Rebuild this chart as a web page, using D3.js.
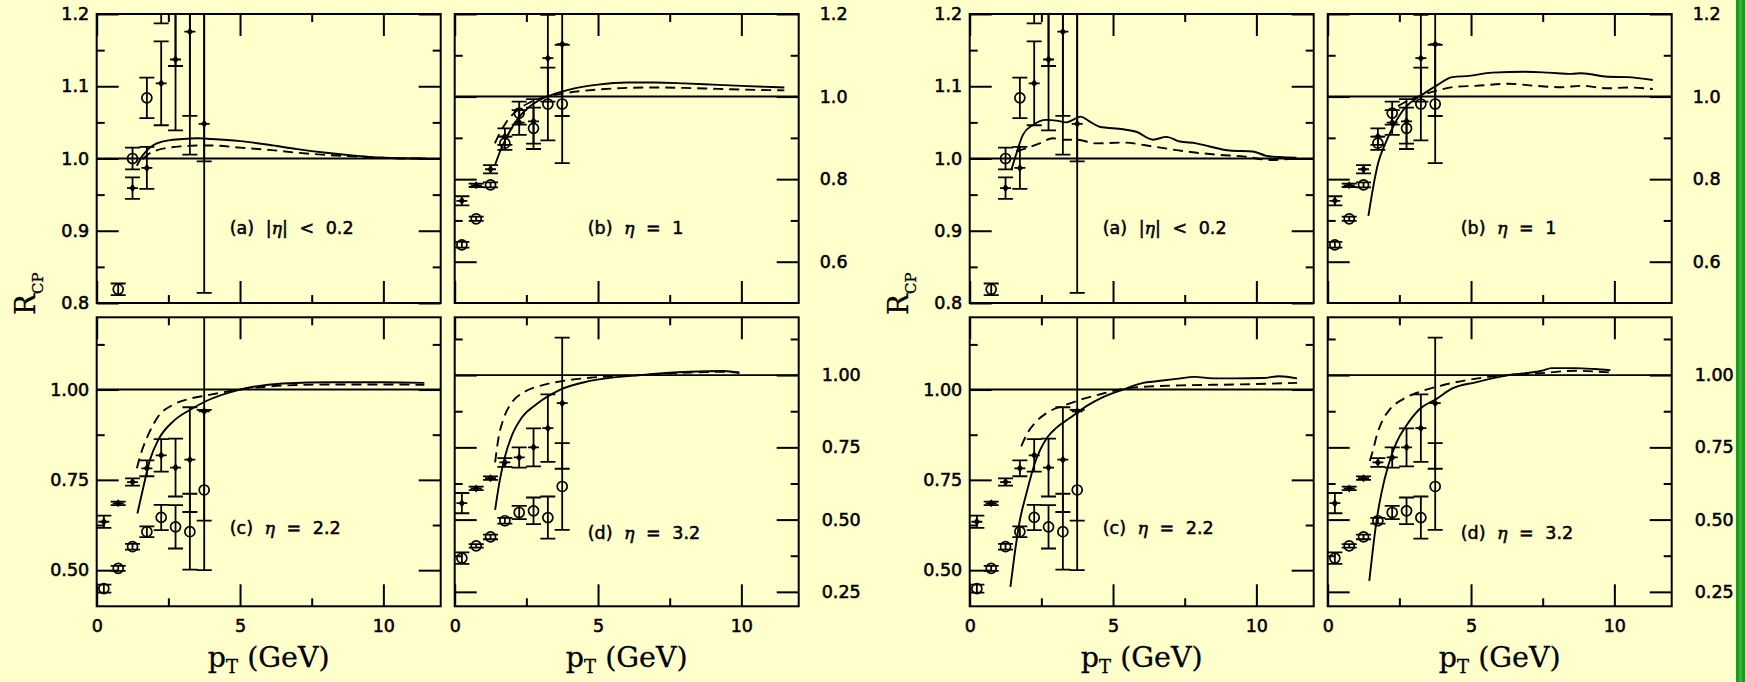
<!DOCTYPE html>
<html><head><meta charset="utf-8">
<script src="https://cdn.jsdelivr.net/npm/d3@7"></script>
<style>
html,body{margin:0;padding:0;background:#ffffcc;}
svg{display:block;}
</style></head><body>
<svg id="chart" width="1745" height="682"></svg>
<script>
// ===================== DATA =====================
const pTBins = [0.25, 0.75, 1.25, 1.75, 2.25, 2.75, 3.25, 3.75];

// panel (a) |eta| < 0.2
const filledA    = [null, null, 0.959, 0.987, 1.104, 1.137, 1.1755, 1.048];
const filledErrA = [null, null, 0.015, 0.029, 0.058, 0.098, 0.17, 0.234];
const openA      = [null, 0.819, 1.000, 1.084, 1.215, 1.21, 1.22, 1.23];
const openErrA   = [null, 0.008, 0.015, 0.028, 0.028, 0.082, 0.161, 0.234];
// panel (b) eta = 1
const filledB    = [0.7476, 0.785, 0.824, 0.903, 0.937, 0.940, 1.093, 1.127];
const filledErrB = [0.011, 0.004, 0.010, 0.020, 0.030, 0.054, 0.105, 0.174];
const openB      = [0.641, 0.704, 0.786, 0.887, 0.960, 0.923, 0.982, 0.982];
const openErrB   = [0.007, 0.005, 0.006, 0.016, 0.028, 0.050, 0.088, 0.143];
// panel (c) eta = 2.2
const filledC    = [0.634, 0.685, 0.744, 0.782, 0.818, 0.784, 0.806, 0.940];
const filledErrC = [0.017, 0.005, 0.010, 0.022, 0.045, 0.080, 0.145, 0.303];
const openC      = [0.449, 0.505, 0.565, 0.6065, 0.646, 0.620, 0.6065, 0.722];
const openErrC   = [0.011, 0.007, 0.008, 0.015, 0.035, 0.060, 0.105, 0.222];
// panel (d) eta = 3.2
const filledD    = [0.557, 0.608, 0.6435, 0.6977, 0.715, 0.750, 0.8165, 0.903];
const filledErrD = [0.035, 0.006, 0.006, 0.015, 0.035, 0.066, 0.117, 0.227];
const openD      = [0.3666, 0.409, 0.440, 0.496, 0.5246, 0.5304, 0.507, 0.6146];
const openErrD   = [0.020, 0.006, 0.008, 0.010, 0.023, 0.046, 0.073, 0.150];

// theory curves, left set of panels  [pT, R_CP]
const m1SolidA = [[1.4,0.990],[1.6,1.004],[1.8,1.013],[2.0,1.019],[2.5,1.025],[3.0,1.027],[3.5,1.028],[4.0,1.027],[5.0,1.024],[6.0,1.019],[7.0,1.013],[8.0,1.008],[9.0,1.004],[10.0,1.001],[11.0,1.0],[11.5,1.0]];
const m1DashA  = [[1.6,0.999],[1.8,1.006],[2.0,1.010],[2.5,1.015],[3.0,1.017],[3.5,1.018],[4.0,1.018],[5.0,1.015],[6.0,1.012],[7.0,1.008],[8.0,1.005],[9.0,1.003],[10.0,1.001],[11.0,1.0],[11.5,1.0]];
const m1SolidB = [[1.4,0.833],[1.6,0.870],[1.8,0.900],[2.0,0.925],[2.3,0.955],[2.6,0.975],[3.0,0.993],[3.5,1.007],[4.0,1.017],[5.0,1.029],[6.0,1.034],[7.0,1.034],[8.0,1.032],[9.0,1.029],[10.0,1.026],[11.5,1.022]];
const m1DashB  = [[1.4,0.887],[1.6,0.915],[1.8,0.938],[2.0,0.955],[2.3,0.973],[2.6,0.985],[3.0,0.996],[3.5,1.004],[4.0,1.010],[5.0,1.017],[6.0,1.021],[7.0,1.022],[8.0,1.021],[9.0,1.019],[10.0,1.017],[11.5,1.015]];
const m1SolidC = [[1.42,0.657],[1.63,0.731],[1.86,0.806],[2.15,0.861],[2.67,0.912],[3.26,0.944],[3.84,0.969],[5.0,1.0],[6.5,1.0167],[8.26,1.020],[10.0,1.020],[11.43,1.0185]];
const m1DashC  = [[1.4,0.782],[1.57,0.829],[1.8,0.875],[2.15,0.926],[2.67,0.958],[3.26,0.975],[3.84,0.984],[5.0,1.0],[6.5,1.011],[8.26,1.014],[10.0,1.014],[11.43,1.013]];
const m1SolidD = [[1.41,0.534],[1.58,0.64],[1.76,0.72],[1.99,0.79],[2.34,0.853],[2.86,0.9],[3.67,0.949],[4.72,0.980],[6.47,1.0],[8.2,1.0115],[9.37,1.014],[9.93,1.008]];
const m1DashD  = [[1.41,0.698],[1.52,0.778],[1.7,0.848],[1.99,0.905],[2.4,0.94],[2.98,0.963],[3.79,0.98],[4.72,0.991],[6.47,1.0],[8.2,1.009],[9.37,1.0115],[9.93,1.008]];

// theory curves, right set of panels
const m2SolidA = [[1.45,0.984],[1.63,1.007],[1.86,1.033],[2.21,1.0465],[2.67,1.0535],[3.02,1.0525],[3.37,1.050],[3.6,1.0535],[3.86,1.058],[4.19,1.051],[4.53,1.044],[5.35,1.0405],[5.81,1.037],[6.4,1.026],[6.86,1.030],[7.33,1.0235],[7.9,1.021],[8.37,1.0166],[9.07,1.011],[9.88,1.0097],[10.35,1.0037],[10.8,1.002],[11.4,1.001]];
const m2DashA  = [[1.63,1.0097],[1.98,1.0143],[2.44,1.021],[2.9,1.028],[3.26,1.026],[3.72,1.026],[4.42,1.021],[5.35,1.022],[6.4,1.0166],[7.56,1.0097],[8.72,1.005],[9.53,1.003],[10.47,0.998],[11.4,1.0]];
const m2SolidB = [[1.42,0.711],[1.59,0.782],[1.76,0.839],[1.99,0.883],[2.28,0.927],[2.74,0.976],[3.2,1.0],[3.78,1.026],[4.35,1.047],[4.93,1.05],[5.74,1.058],[6.89,1.060],[7.7,1.058],[8.5,1.055],[8.85,1.0565],[9.77,1.048],[10.46,1.047],[11.34,1.040]];
const m2DashB  = [[2.45,0.977],[2.86,0.992],[3.32,1.004],[3.9,1.016],[4.47,1.024],[5.16,1.026],[6.31,1.031],[7.24,1.026],[8.16,1.0226],[8.85,1.026],[9.77,1.02],[10.46,1.022],[11.34,1.0185]];
const m2SolidC = [[1.42,0.454],[1.57,0.546],[1.74,0.634],[1.98,0.713],[2.27,0.796],[2.73,0.870],[3.02,0.894],[3.49,0.921],[4.07,0.954],[4.65,0.979],[5.35,1.0],[6.05,1.0185],[6.51,1.023],[7.21,1.0296],[7.85,1.035],[8.49,1.031],[9.3,1.031],[10.23,1.032],[10.8,1.037],[11.42,1.031]];
const m2DashC  = [[1.8,0.843],[1.98,0.875],[2.33,0.912],[2.79,0.94],[3.37,0.958],[3.95,0.974],[4.65,0.989],[5.35,1.002],[6.4,1.009],[7.56,1.012],[9.3,1.014],[11.42,1.0185]];
const m2SolidD = [[1.45,0.288],[1.59,0.409],[1.71,0.50],[1.88,0.594],[2.11,0.686],[2.4,0.767],[2.74,0.825],[3.2,0.882],[3.78,0.917],[4.35,0.954],[5.16,0.975],[6.31,1.0],[7.47,1.015],[7.81,1.024],[8.62,1.024],[9.31,1.021],[9.86,1.017]];
const m2DashD  = [[1.47,0.703],[1.59,0.744],[1.71,0.79],[1.88,0.836],[2.17,0.882],[2.63,0.917],[3.2,0.942],[4.01,0.965],[4.93,0.984],[6.31,1.0],[7.47,1.007],[8.62,1.015],[9.86,1.009]];

// axes
const xDomain = [0, 12];
const xMajor = [0, 5, 10];
const xMinor = [2.5, 7.5];
const xLabels = ["0", "5", "10"];

const yDomainA = [0.8, 1.2], yMajorA = [0.8, 0.9, 1.0, 1.1, 1.2], yMinorA = [0.85, 0.95, 1.05, 1.15];
const yLabelsA = ["0.8", "0.9", "1.0", "1.1", "1.2"];
const yDomainB = [0.5, 1.2], yMajorB = [0.6, 0.8, 1.0, 1.2], yMinorB = [0.7, 0.9, 1.1];
const yLabelsB = ["0.6", "0.8", "1.0", "1.2"];
const yDomainC = [0.4, 1.2], yMajorC = [0.5, 0.75, 1.0], yMinorC = [0.625, 0.875, 1.125];
const yLabelsC = ["0.50", "0.75", "1.00"];
const yDomainD = [0.2, 1.2], yMajorD = [0.25, 0.5, 0.75, 1.0], yMinorD = [0.375, 0.625, 0.875, 1.125];
const yLabelsD = ["0.25", "0.50", "0.75", "1.00"];

const panelTitles = {
  a: ["(a) |", "η", "| < 0.2"],
  b: ["(b) ", "η", " = 1"],
  c: ["(c) ", "η", " = 2.2"],
  d: ["(d) ", "η", " = 3.2"]
};
const yTitle = ["R", "CP"];
const xTitle = ["p", "T", " (GeV)"];

// ===================== LAYOUT =====================
const W = 1745, H = 682;
const PW = 344, PH = 289;
const groupOffsets = [0, 873];
const panelPos = {
  a: {x: 96.7, y: 14,    side: "left",  pad: 7.5, title: 220},
  b: {x: 454.7, y: 14,   side: "right", pad: 21,  title: 220},
  c: {x: 96.7, y: 317.3, side: "left",  pad: 7.5, title: 217, xlab: true},
  d: {x: 454.7, y: 317.3,side: "right", pad: 23,  title: 222, xlab: true}
};
const tickFont = "DejaVu Sans";
const serif = "DejaVu Serif";

const panels = [
  {key:"a", yDomain:yDomainA, yMajor:yMajorA, yMinor:yMinorA, yLabels:yLabelsA,
   filled:filledA, filledErr:filledErrA, open:openA, openErr:openErrA,
   curves:[[m1SolidA, m1DashA],[m2SolidA, m2DashA]]},
  {key:"b", yDomain:yDomainB, yMajor:yMajorB, yMinor:yMinorB, yLabels:yLabelsB,
   filled:filledB, filledErr:filledErrB, open:openB, openErr:openErrB,
   curves:[[m1SolidB, m1DashB],[m2SolidB, m2DashB]]},
  {key:"c", yDomain:yDomainC, yMajor:yMajorC, yMinor:yMinorC, yLabels:yLabelsC,
   filled:filledC, filledErr:filledErrC, open:openC, openErr:openErrC,
   curves:[[m1SolidC, m1DashC],[m2SolidC, m2DashC]]},
  {key:"d", yDomain:yDomainD, yMajor:yMajorD, yMinor:yMinorD, yLabels:yLabelsD,
   filled:filledD, filledErr:filledErrD, open:openD, openErr:openErrD,
   curves:[[m1SolidD, m1DashD],[m2SolidD, m2DashD]]}
];

// ===================== DRAW =====================
const svg = d3.select("#chart");
svg.append("rect").attr("width", W).attr("height", H).attr("fill", "#ffffcc");
const defs = svg.append("defs");

const x = d3.scaleLinear().domain(xDomain).range([0, PW]);

function tickAxis(g, axis, vals, size) {
  g.call(axis.tickValues(vals).tickSize(size).tickFormat(() => ""));
  g.select(".domain").remove();
  g.selectAll(".tick line").attr("stroke", "#000").attr("stroke-width", 2);
}
function styleTickText(sel) {
  sel.attr("font-family", tickFont).attr("font-size", 17.5).attr("fill", "#000")
     .attr("stroke", "#000").attr("stroke-width", 0.55);
}

groupOffsets.forEach((gx, gi) => {
  panels.forEach(p => {
    const pos = panelPos[p.key];
    const y = d3.scaleLinear().domain(p.yDomain).range([PH, 0]);
    const g = svg.append("g").attr("transform", `translate(${gx + pos.x},${pos.y})`);
    const clipId = `clip-${gi}-${p.key}`;
    defs.append("clipPath").attr("id", clipId)
      .append("rect").attr("x", 0).attr("y", 0).attr("width", PW).attr("height", PH);

    // ticks (inward, all four sides)
    tickAxis(g.append("g"), d3.axisRight(y), p.yMajor, 22);
    tickAxis(g.append("g"), d3.axisRight(y), p.yMinor, 8);
    tickAxis(g.append("g").attr("transform", `translate(${PW},0)`), d3.axisLeft(y), p.yMajor, 22);
    tickAxis(g.append("g").attr("transform", `translate(${PW},0)`), d3.axisLeft(y), p.yMinor, 8);
    tickAxis(g.append("g"), d3.axisBottom(x), xMajor, 22);
    tickAxis(g.append("g"), d3.axisBottom(x), xMinor, 8);
    tickAxis(g.append("g").attr("transform", `translate(0,${PH})`), d3.axisTop(x), xMajor, 22);
    tickAxis(g.append("g").attr("transform", `translate(0,${PH})`), d3.axisTop(x), xMinor, 8);

    // y tick labels
    const lab = pos.side === "left"
      ? g.append("g").call(d3.axisLeft(y).tickValues(p.yMajor).tickSize(0).tickPadding(pos.pad).tickFormat((d, i) => p.yLabels[i]))
      : g.append("g").attr("transform", `translate(${PW},0)`).call(d3.axisRight(y).tickValues(p.yMajor).tickSize(0).tickPadding(pos.pad).tickFormat((d, i) => p.yLabels[i]));
    lab.select(".domain").remove();
    styleTickText(lab.selectAll("text"));

    if (pos.xlab) {
      const xl = g.append("g").attr("transform", `translate(0,${PH})`)
        .call(d3.axisBottom(x).tickValues(xMajor).tickSize(0).tickPadding(13).tickFormat((d, i) => xLabels[i]));
      xl.select(".domain").remove();
      styleTickText(xl.selectAll("text"));
      // x title
      const t = g.append("text").attr("x", PW / 2).attr("y", 667 - pos.y)
        .attr("text-anchor", "middle").attr("font-family", serif).attr("font-size", 28.5)
        .attr("fill", "#000").attr("stroke", "#000").attr("stroke-width", 0.3);
      t.append("tspan").text(xTitle[0]);
      t.append("tspan").attr("font-size", 18).attr("dy", 6).text(xTitle[1]);
      t.append("tspan").attr("dy", -6).text(xTitle[2]);
    }

    // plot content
    const c = g.append("g").attr("clip-path", `url(#${clipId})`);
    // reference line
    c.append("line").attr("x1", 0).attr("x2", PW).attr("y1", y(1)).attr("y2", y(1))
      .attr("stroke", "#000").attr("stroke-width", 1.9);

    // theory curves
    const line = d3.line().x(d => x(d[0])).y(d => y(d[1])).curve(d3.curveMonotoneX);
    const [solid, dash] = p.curves[gi];
    c.append("path").attr("d", line(solid)).attr("fill", "none").attr("stroke", "#000").attr("stroke-width", 1.9);
    c.append("path").attr("d", line(dash)).attr("fill", "none").attr("stroke", "#000").attr("stroke-width", 1.9)
      .attr("stroke-dasharray", "10,6");

    // error bars
    function errBars(vals, errs) {
      const data = pTBins.map((pt, i) => ({pt, v: vals[i], e: errs[i]})).filter(d => d.v != null);
      const eg = c.append("g").attr("stroke", "#000").attr("stroke-width", 1.8);
      data.forEach(d => {
        const xx = x(d.pt), y0 = y(d.v - d.e), y1 = y(d.v + d.e);
        eg.append("line").attr("x1", xx).attr("x2", xx).attr("y1", y0).attr("y2", y1);
        eg.append("line").attr("x1", xx - 7.5).attr("x2", xx + 7.5).attr("y1", y0).attr("y2", y0);
        eg.append("line").attr("x1", xx - 7.5).attr("x2", xx + 7.5).attr("y1", y1).attr("y2", y1);
      });
      return data;
    }
    const fd = errBars(p.filled, p.filledErr);
    const od = errBars(p.open, p.openErr);

    // open circles
    c.append("g").selectAll("circle").data(od).join("circle")
      .attr("cx", d => x(d.pt)).attr("cy", d => y(d.v)).attr("r", 5)
      .attr("fill", "none").attr("stroke", "#000").attr("stroke-width", 1.7);
    // filled markers
    const fg = c.append("g");
    fd.forEach(d => {
      const xx = x(d.pt), yy = y(d.v);
      fg.append("line").attr("x1", xx - 5.5).attr("x2", xx + 5.5).attr("y1", yy).attr("y2", yy)
        .attr("stroke", "#000").attr("stroke-width", 1.8);
      fg.append("path").attr("d", `M${xx},${yy - 4}L${xx + 3.2},${yy}L${xx},${yy + 4}L${xx - 3.2},${yy}Z`)
        .attr("fill", "#000");
    });

    // frame
    g.append("rect").attr("x", 0).attr("y", 0).attr("width", PW).attr("height", PH)
      .attr("fill", "none").attr("stroke", "#000").attr("stroke-width", 2);

    // panel title
    const tt = g.append("text").attr("x", 133).attr("y", pos.title)
      .attr("font-family", tickFont).attr("font-size", 17.5).attr("fill", "#000")
      .attr("stroke", "#000").attr("stroke-width", 0.5)
      .attr("word-spacing", 6).style("white-space", "pre");
    const pt = panelTitles[p.key];
    tt.append("tspan").text(pt[0]);
    tt.append("tspan").attr("font-family", serif).attr("font-style", "italic").text(pt[1]);
    tt.append("tspan").text(pt[2]);
  });

  // y title
  const yt = svg.append("text").attr("transform", `translate(${gx + 35},315) rotate(-90)`)
    .attr("font-family", serif).attr("font-size", 28).attr("fill", "#000")
    .attr("stroke", "#000").attr("stroke-width", 0.3);
  yt.append("tspan").text(yTitle[0]);
  yt.append("tspan").attr("font-size", 15).attr("dy", 8).text(yTitle[1]);
});

// green edge bar
svg.append("rect").attr("x", 1736).attr("y", 0).attr("width", 9).attr("height", H).attr("fill", "#1d9a1d");
svg.append("rect").attr("x", 1739).attr("y", 0).attr("width", 3).attr("height", H).attr("fill", "#36b236");
</script>
</body></html>
